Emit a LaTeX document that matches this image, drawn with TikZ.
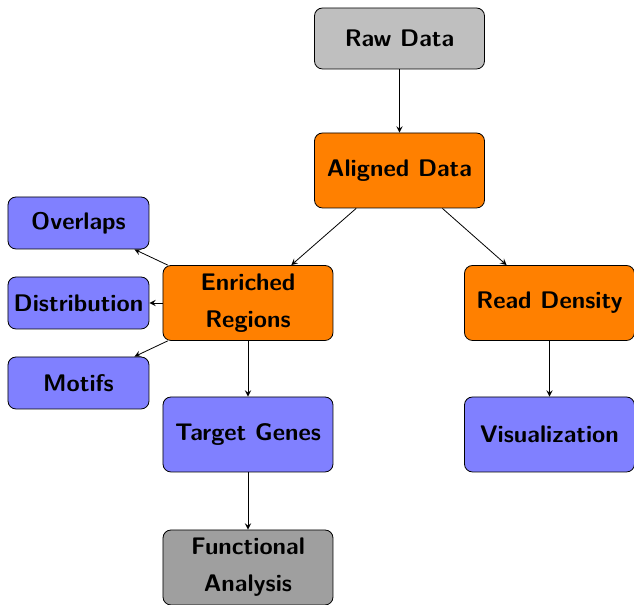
\documentclass[tikz,border=0pt]{standalone}
\usetikzlibrary{arrows}

\begin{document}
\begin{tikzpicture}[x=0.5pt, y=0.5pt,
    box/.style={draw, rounded corners, align=center,
      font=\sffamily\bfseries\fontsize{12}{18.5}\selectfont,
      minimum width=85pt, minimum height=37.5pt, inner sep=1pt},
    topbox/.style={box, minimum height=30.5pt},
    sidebox/.style={box, minimum width=70.5pt, minimum height=26pt, fill=blue!50},
    every edge/.style={draw, -stealth}]
      \useasboundingbox (0,0) rectangle (634,605);
      %
      \node[topbox, fill=lightgray] (raw) at (399.5,566.5) {Raw Data};     % root
      \node[box, fill=orange] (aligned) at (399.5,434.5) {Aligned Data};
      %
      \node[box, fill=orange] (enriched) at (248,302) {Enriched\\Regions}; % left branch
      \node[box, fill=orange] (density) at (549.5,302) {Read Density};     % right branch
      %
      \node[sidebox] (overlaps) at (78.5,382) {Overlaps};
      \node[sidebox] (distrib) at (78.5,302) {Distribution};
      \node[sidebox] (motifs) at (78.5,222) {Motifs};
      %
      \node[box, fill=blue!50] (target) at (248,170.5) {Target Genes};
      \node[box, fill=blue!50] (visual) at (549.5,170.5) {Visualization};
      \node[box, fill=gray!75] (functional) at (248,37.5) {Functional\\Analysis};
      %
      \path (raw) edge (aligned)
            (aligned) edge (enriched)
            (aligned) edge (density);
      %
      \path (enriched) edge (overlaps)
            (enriched) edge (distrib)
            (enriched) edge (motifs)
            (enriched) edge (target);
      %
      \path (target) edge (functional)
            (density) edge (visual);
      %
    \end{tikzpicture}
\end{document}
